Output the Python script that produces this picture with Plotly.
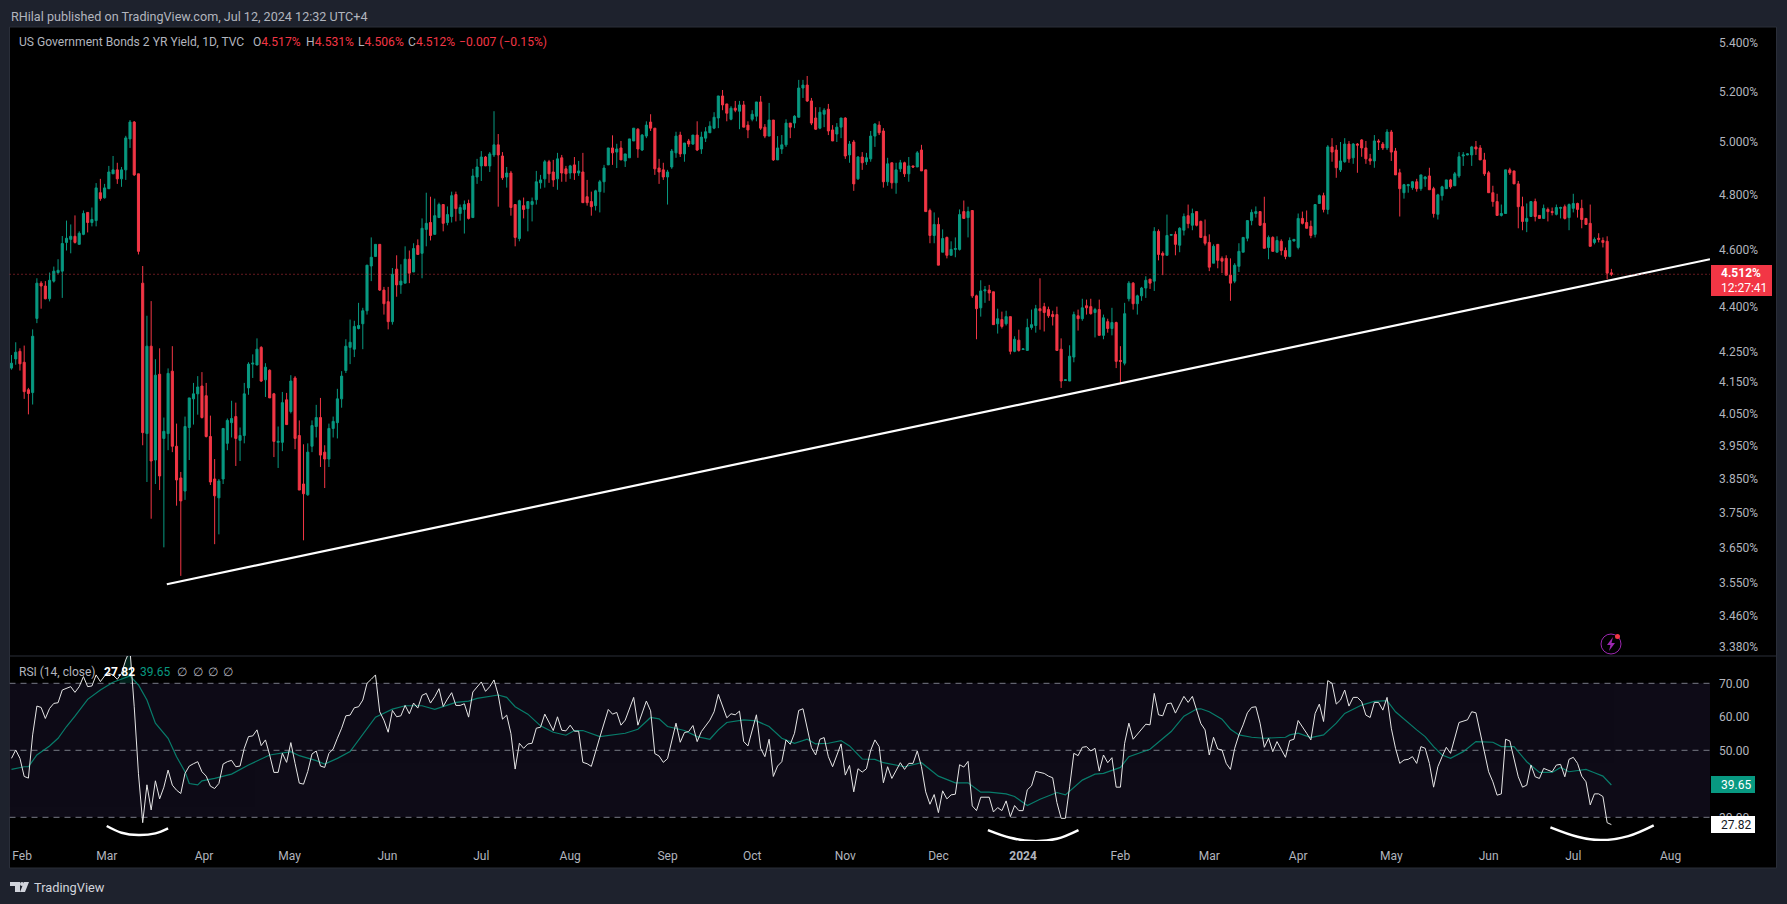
"""US 2Y yield daily candles with an RSI pane, TradingView dark look."""
import numpy as np
import plotly.graph_objects as go

W, H = 1787, 904

# candles, one entry per trading bar
opens = [
    4.195,4.225,4.250,4.214,4.125,4.116,4.360,4.481,4.471,4.427,
    4.488,4.518,4.523,4.625,4.636,4.647,4.618,4.654,4.734,4.697,
    4.704,4.807,4.788,4.822,4.878,4.893,4.859,4.893,5.012,5.078,
    4.878,4.481,3.987,4.267,3.906,4.175,3.972,3.987,4.185,3.948,
    3.852,3.813,4.006,4.096,4.112,4.137,4.106,3.978,3.849,3.793,
    3.849,3.957,4.021,4.040,3.966,3.981,4.131,4.208,4.205,4.263,
    4.157,4.188,4.112,3.960,3.960,4.093,4.056,4.163,3.981,3.834,
    3.802,3.948,4.009,4.037,3.930,3.909,4.003,4.021,4.096,
    4.187,4.263,4.257,4.326,4.342,4.386,4.541,4.575,4.618,4.457,
    4.417,4.349,4.530,4.475,4.481,4.565,4.520,4.614,4.586,4.672,
    4.697,4.654,4.715,4.763,4.697,4.719,4.800,4.730,4.745,4.767,
    4.715,4.866,4.908,4.942,4.908,4.950,4.989,4.946,4.866,4.881,
    4.763,4.639,4.759,4.748,4.763,4.781,4.844,4.859,4.924,4.885,
    4.859,4.939,4.897,4.881,4.912,4.881,4.885,4.792,4.774,4.759,
    4.811,4.848,4.912,4.977,4.961,4.977,4.927,4.939,5.004,5.050,
    4.969,5.023,5.078,5.054,4.900,4.893,4.866,4.904,4.958,5.027,
    4.954,5.004,4.992,5.027,4.973,5.015,5.036,5.054,5.094,5.182,
    5.150,5.089,5.133,5.121,5.146,5.066,5.089,5.101,5.158,5.058,
    5.023,5.086,4.931,4.973,4.989,5.074,5.074,5.097,5.214,5.226,
    5.162,5.094,5.054,5.109,5.129,5.047,5.031,5.058,5.094,4.950,
    5.000,4.859,4.942,4.924,4.935,5.023,5.066,5.043,4.848,4.920,
    4.844,4.897,4.920,4.878,4.908,4.904,4.969,4.893,4.741,4.650,
    4.690,4.590,4.643,4.579,4.600,4.600,4.737,4.715,4.741,4.437,
    4.396,4.454,4.457,4.451,4.342,4.356,4.342,4.366,4.250,4.287,
    4.256,4.253,4.329,4.336,4.393,4.400,4.390,4.373,4.373,4.257,
    4.155,4.153,4.231,4.369,4.359,4.403,4.400,4.380,4.390,4.303,
    4.349,4.326,4.346,4.220,4.211,4.427,4.481,4.410,4.437,4.464,
    4.495,4.488,4.665,4.586,4.579,4.651,4.654,4.615,4.669,4.722,
    4.687,4.737,4.701,4.647,4.625,4.551,4.618,4.568,4.568,4.509,
    4.488,4.540,4.590,4.640,4.704,4.730,4.737,4.694,4.607,4.643,
    4.590,4.629,4.596,4.575,4.630,4.607,4.712,4.697,4.683,4.654,
    4.767,4.796,4.745,4.981,4.969,4.893,4.924,4.992,4.939,4.992,
    5.008,4.977,4.935,4.927,5.004,4.992,4.977,5.039,4.965,4.882,
    4.807,4.833,4.826,4.848,4.822,4.859,4.870,4.822,4.727,4.796,
    4.822,4.855,4.833,4.870,4.946,4.950,4.950,4.981,4.977,4.931,
    4.882,4.807,4.774,4.723,4.730,4.893,4.889,4.840,4.755,4.701,
    4.719,4.774,4.723,4.712,4.745,4.737,4.727,4.749,4.755,4.715,
    4.749,4.767,4.749,4.712,4.694,4.625,4.640,4.632,4.629,4.517,
]
highs = [
    4.238,4.280,4.260,4.269,4.131,4.323,4.498,4.488,4.488,4.518,
    4.539,4.565,4.648,4.704,4.690,4.723,4.665,4.741,4.734,4.752,
    4.843,4.859,4.840,4.908,4.946,4.920,4.904,5.024,5.086,5.082,
    4.878,4.541,4.369,4.419,4.224,4.260,4.037,4.194,4.267,4.018,
    3.870,4.040,4.099,4.147,4.169,4.182,4.147,4.043,3.909,3.849,
    4.003,4.034,4.090,4.084,4.006,4.147,4.214,4.240,4.293,4.267,
    4.211,4.191,4.115,4.009,4.118,4.115,4.172,4.169,4.028,3.954,
    3.957,4.028,4.077,4.099,3.951,4.018,4.040,4.128,4.185,
    4.290,4.356,4.352,4.413,4.396,4.544,4.643,4.618,4.618,4.468,
    4.468,4.534,4.579,4.547,4.611,4.596,4.622,4.636,4.712,4.807,
    4.792,4.785,4.770,4.763,4.756,4.811,4.811,4.763,4.778,4.781,
    4.897,4.935,4.965,4.946,4.961,5.121,5.031,4.961,4.904,4.889,
    4.763,4.781,4.789,4.774,4.789,4.889,4.874,4.931,4.931,4.931,
    4.958,4.950,4.908,4.912,4.942,4.927,4.958,4.855,4.811,4.818,
    4.855,4.912,4.977,5.026,4.993,5.004,4.954,5.012,5.054,5.054,
    5.031,5.081,5.109,5.054,4.935,4.920,4.893,4.973,5.040,5.040,
    4.996,5.012,5.027,5.081,5.040,5.058,5.081,5.117,5.182,5.206,
    5.150,5.141,5.162,5.162,5.162,5.081,5.125,5.158,5.182,5.070,
    5.154,5.086,5.023,5.027,5.089,5.074,5.105,5.247,5.247,5.263,
    5.174,5.137,5.137,5.133,5.150,5.066,5.074,5.094,5.097,5.004,
    5.008,4.946,4.961,4.958,5.043,5.074,5.081,5.054,4.939,4.920,
    4.920,4.931,4.924,4.942,4.908,4.965,4.989,4.893,4.748,4.734,
    4.715,4.672,4.646,4.629,4.643,4.745,4.778,4.755,4.741,4.441,
    4.491,4.471,4.475,4.451,4.393,4.383,4.386,4.366,4.300,4.322,
    4.259,4.359,4.390,4.406,4.498,4.413,4.400,4.386,4.400,4.293,
    4.158,4.270,4.383,4.390,4.427,4.424,4.427,4.396,4.424,4.373,
    4.359,4.396,4.349,4.267,4.413,4.488,4.485,4.441,4.468,4.505,
    4.495,4.680,4.672,4.593,4.726,4.654,4.665,4.680,4.730,4.763,
    4.748,4.737,4.704,4.708,4.654,4.618,4.618,4.575,4.579,4.568,
    4.551,4.622,4.643,4.704,4.745,4.756,4.737,4.792,4.650,4.647,
    4.647,4.636,4.607,4.643,4.637,4.730,4.737,4.741,4.704,4.763,
    4.800,4.807,4.988,5.015,4.988,5.000,5.015,5.004,4.996,4.996,
    5.011,5.004,4.954,5.027,5.011,5.000,5.050,5.047,4.977,4.897,
    4.840,4.840,4.851,4.859,4.874,4.870,4.901,4.829,4.803,4.833,
    4.855,4.859,4.885,4.961,4.961,4.955,4.985,5.004,4.988,4.958,
    4.889,4.833,4.803,4.763,4.893,4.901,4.889,4.851,4.792,4.767,
    4.774,4.785,4.723,4.763,4.752,4.752,4.763,4.755,4.763,4.767,
    4.803,4.770,4.781,4.712,4.763,4.643,4.658,4.643,4.647,4.531,
]
lows = [
    4.190,4.206,4.187,4.096,4.047,4.078,4.344,4.393,4.425,4.418,
    4.483,4.512,4.430,4.596,4.586,4.621,4.618,4.651,4.661,4.683,
    4.683,4.777,4.785,4.822,4.878,4.840,4.829,4.855,4.977,4.870,
    4.582,3.951,3.840,3.732,3.834,3.816,3.650,3.936,3.930,3.770,
    3.570,3.787,3.906,4.015,4.046,4.034,3.975,3.831,3.659,3.687,
    3.834,3.936,3.975,3.888,3.903,3.957,4.109,4.163,4.205,4.150,
    4.102,4.099,3.915,3.882,3.933,4.015,4.050,3.939,3.816,3.670,
    3.799,3.930,3.975,3.885,3.822,3.885,3.975,3.972,4.068,
    4.179,4.208,4.231,4.323,4.257,4.373,4.488,4.575,4.454,4.373,
    4.323,4.339,4.434,4.444,4.481,4.481,4.520,4.582,4.498,4.611,
    4.632,4.654,4.715,4.665,4.687,4.697,4.701,4.704,4.657,4.708,
    4.715,4.840,4.851,4.908,4.885,4.942,4.755,4.855,4.826,4.722,
    4.611,4.629,4.712,4.665,4.701,4.763,4.822,4.826,4.844,4.829,
    4.818,4.848,4.848,4.859,4.855,4.870,4.770,4.759,4.722,4.741,
    4.734,4.807,4.912,4.912,4.900,4.931,4.904,4.939,5.004,4.939,
    4.965,5.015,5.043,4.874,4.840,4.855,4.763,4.897,4.939,4.942,
    4.924,4.981,4.989,4.965,4.954,5.000,5.036,5.050,5.054,5.125,
    5.081,5.085,5.117,5.050,5.058,5.015,5.081,5.081,5.047,5.015,
    5.023,4.927,4.931,4.954,4.981,5.015,5.054,5.097,5.174,5.158,
    5.066,5.047,5.050,5.058,5.027,5.004,5.000,5.015,4.935,4.920,
    4.814,4.855,4.893,4.912,4.924,4.981,5.027,4.826,4.833,4.822,
    4.803,4.885,4.866,4.848,4.900,4.904,4.889,4.737,4.622,4.622,
    4.544,4.590,4.568,4.579,4.572,4.596,4.712,4.643,4.430,4.290,
    4.366,4.413,4.420,4.339,4.309,4.326,4.336,4.240,4.247,4.249,
    4.255,4.253,4.322,4.312,4.322,4.316,4.362,4.336,4.253,4.131,
    4.154,4.153,4.214,4.319,4.352,4.373,4.373,4.296,4.303,4.290,
    4.312,4.303,4.195,4.145,4.204,4.418,4.390,4.373,4.420,4.430,
    4.461,4.454,4.561,4.509,4.579,4.650,4.579,4.590,4.650,4.676,
    4.669,4.683,4.643,4.614,4.523,4.551,4.533,4.516,4.509,4.420,
    4.481,4.520,4.590,4.629,4.687,4.715,4.687,4.604,4.565,4.593,
    4.590,4.579,4.565,4.572,4.629,4.600,4.690,4.676,4.640,4.643,
    4.767,4.734,4.727,4.924,4.863,4.885,4.920,4.920,4.916,4.882,
    4.943,4.916,4.912,4.901,4.969,4.969,4.969,4.927,4.874,4.719,
    4.785,4.807,4.818,4.811,4.814,4.829,4.818,4.715,4.708,4.778,
    4.822,4.822,4.833,4.863,4.908,4.949,4.908,4.950,4.931,4.870,
    4.807,4.755,4.723,4.719,4.730,4.874,4.840,4.676,4.669,4.662,
    4.719,4.701,4.712,4.712,4.701,4.723,4.723,4.712,4.708,4.669,
    4.734,4.715,4.676,4.690,4.611,4.618,4.625,4.607,4.495,4.506,
]
closes = [
    4.211,4.247,4.209,4.119,4.113,4.300,4.481,4.471,4.427,4.491,
    4.523,4.526,4.621,4.640,4.647,4.625,4.658,4.730,4.697,4.708,
    4.825,4.785,4.825,4.885,4.893,4.859,4.893,5.016,5.078,4.874,
    4.593,3.990,4.267,3.903,4.172,3.858,3.994,4.178,3.948,3.846,
    3.784,4.009,4.099,4.112,4.134,4.037,3.978,3.840,3.799,3.843,
    4.003,4.028,4.034,3.972,3.981,4.112,4.208,4.211,4.257,4.153,
    4.198,4.099,3.963,3.963,4.084,4.015,4.153,3.972,3.816,3.805,
    3.930,4.012,4.037,3.921,3.909,4.003,4.025,4.096,4.169,
    4.267,4.280,4.333,4.336,4.386,4.544,4.572,4.618,4.457,4.410,
    4.349,4.512,4.475,4.488,4.565,4.516,4.603,4.582,4.676,4.694,
    4.650,4.722,4.763,4.694,4.726,4.796,4.748,4.752,4.763,4.712,
    4.870,4.904,4.942,4.908,4.954,4.989,4.950,4.863,4.881,4.752,
    4.643,4.777,4.745,4.774,4.774,4.848,4.855,4.924,4.878,4.855,
    4.935,4.881,4.878,4.908,4.881,4.889,4.770,4.770,4.755,4.814,
    4.848,4.900,4.977,4.958,4.973,4.931,4.954,5.012,5.054,4.973,
    5.027,5.066,5.054,4.897,4.885,4.866,4.885,4.965,5.023,4.954,
    4.996,4.992,5.027,4.969,5.019,5.040,5.062,5.097,5.182,5.146,
    5.113,5.133,5.125,5.146,5.058,5.047,5.109,5.158,5.054,5.023,
    5.086,4.931,4.977,4.989,5.074,5.058,5.101,5.214,5.226,5.162,
    5.074,5.050,5.117,5.125,5.043,5.004,5.058,5.094,4.946,4.992,
    4.840,4.942,4.920,4.939,5.023,5.070,5.036,4.848,4.916,4.844,
    4.893,4.920,4.878,4.908,4.904,4.958,4.889,4.737,4.650,4.690,
    4.544,4.639,4.579,4.600,4.603,4.726,4.712,4.737,4.437,4.393,
    4.454,4.458,4.447,4.339,4.359,4.333,4.366,4.250,4.290,4.253,
    4.258,4.329,4.339,4.393,4.386,4.380,4.369,4.366,4.253,4.153,
    4.157,4.234,4.373,4.359,4.396,4.396,4.376,4.390,4.303,4.362,
    4.326,4.346,4.217,4.217,4.376,4.481,4.410,4.437,4.464,4.491,
    4.481,4.665,4.582,4.579,4.650,4.653,4.618,4.676,4.719,4.693,
    4.730,4.687,4.643,4.622,4.537,4.611,4.561,4.558,4.509,4.481,
    4.544,4.593,4.643,4.704,4.734,4.737,4.687,4.604,4.643,4.593,
    4.632,4.596,4.575,4.632,4.636,4.712,4.694,4.676,4.650,4.763,
    4.796,4.745,4.981,4.961,4.901,4.927,4.992,4.935,4.992,4.988,
    4.977,4.935,4.927,5.004,5.000,4.977,5.039,4.961,4.874,4.822,
    4.837,4.837,4.848,4.822,4.874,4.866,4.818,4.730,4.799,4.829,
    4.855,4.829,4.878,4.943,4.950,4.954,4.981,4.973,4.931,4.878,
    4.807,4.774,4.723,4.730,4.893,4.882,4.840,4.755,4.701,4.712,
    4.774,4.719,4.712,4.749,4.737,4.734,4.752,4.752,4.712,4.763,
    4.767,4.745,4.708,4.690,4.611,4.636,4.636,4.625,4.516,4.512,
]
bars = list(range(len(closes)))

# RSI line: bar number and value at each vertex visible in the pane
rsi_bars = [
    0,1,2,3,4,5,6,7,8,9,10,11,12,14,15,16,17,18,19,20,21,22,23,24,25,26,27,28,29,30,
    31,32,33,34,35,36,37,38,39,40,41,42,43,44,45,46,47,48,49,50,51,52,53,54,55,56,57,58,59,60,
    61,62,63,64,65,66,67,68,69,70,71,72,73,74,75,76,77,78,79,80,81,82,83,84,85,86,87,88,89,90,
    91,92,93,94,95,96,97,98,99,100,101,102,103,104,105,106,107,108,109,110,111,112,113,114,115,116,117,118,119,120,
    121,122,123,124,125,126,127,128,129,130,131,132,133,134,135,136,137,138,139,
    141,142,143,144,145,147,148,150,151,152,153,154,155,156,157,158,159,160,161,162,163,165,166,167,168,169,170,171,172,173,
    174,176,177,178,179,180,181,182,183,184,185,186,187,188,189,190,191,192,193,194,196,197,198,199,200,201,202,203,204,205,
    206,207,208,210,211,212,213,214,215,216,217,218,219,220,221,222,223,224,225,226,227,228,229,231,232,233,234,235,236,237,
    238,239,240,241,242,244,245,246,247,248,249,250,251,252,253,254,255,256,257,258,259,260,261,262,263,264,265,268,269,270,
    271,272,273,274,275,277,278,279,281,282,283,284,285,286,287,288,289,290,291,292,293,294,295,296,297,298,299,301,302,303,
    304,306,307,308,309,310,311,312,313,314,315,316,317,318,319,320,321,322,323,324,325,326,327,328,329,330,331,332,333,334,
    335,336,337,338,339,340,341,342,344,345,346,347,348,349,350,351,352,353,354,355,356,357,358,359,360,361,362,363,364,365,
    366,367,368,369,370,371,372,373,374,375,376,377,378,
]
rsi_values = [
    47.6,50.1,47.6,42.2,41.7,54.6,63.2,62.8,59.5,62.5,64.0,64.2,68.0,69.0,67.3,69.0,72.0,69.0,69.2,72.5,70.5,72.2,73.0,72.5,71.2,73.0,77.0,80.0,63.0,43.0,
    28.4,39.7,32.2,40.9,35.5,39.0,44.1,39.6,38.1,37.1,43.1,45.3,46.0,46.6,43.6,42.3,39.3,38.6,40.1,45.9,46.6,47.0,45.1,45.3,50.6,54.1,54.3,56.1,51.4,53.1,
    48.6,43.4,43.4,49.1,46.4,52.3,46.1,40.2,39.9,43.7,48.9,49.8,45.3,44.9,49.1,50.4,53.6,56.6,60.3,60.5,62.7,63.0,65.0,70.0,71.2,72.5,61.5,59.0,55.4,61.9,
    60.0,60.3,63.4,60.9,64.1,62.6,66.4,67.0,64.1,66.0,68.4,63.1,65.3,67.2,63.4,63.4,63.9,59.9,67.4,69.0,70.4,67.6,69.0,71.0,66.5,59.3,60.5,55.0,44.4,52.1,
    50.6,51.9,52.1,56.6,56.9,60.8,58.5,55.9,60.0,56.0,55.8,57.5,55.7,55.7,46.4,46.0,45.2,49.9,53.9,
    62.2,60.8,61.3,57.5,59.0,65.8,57.5,64.7,61.8,49.0,48.3,46.4,47.5,53.1,58.1,52.4,55.3,55.6,57.4,52.6,55.6,59.0,61.5,66.7,63.4,59.7,60.9,60.6,61.7,52.6,
    51.3,60.6,50.6,48.1,53.3,42.2,45.3,46.6,53.1,51.8,55.1,61.9,62.4,56.3,50.8,48.6,53.3,53.8,48.1,45.1,51.9,42.6,45.5,37.6,44.5,43.5,44.5,50.0,53.1,51.1,
    40.3,45.1,41.6,46.3,44.3,46.1,46.1,49.8,45.1,37.6,33.9,36.8,31.4,37.9,35.5,36.7,36.9,45.7,45.0,46.7,33.4,32.0,36.0,36.0,31.6,32.9,32.0,34.9,30.2,33.5,
    32.0,32.0,38.2,39.4,43.7,43.1,42.3,41.8,34.4,29.7,29.7,39.1,49.1,48.4,50.9,51.1,49.8,50.6,43.8,48.6,46.3,47.8,39.0,39.0,52.1,58.1,53.3,57.8,57.6,67.0,
    60.6,60.3,63.9,64.1,61.1,66.1,64.3,66.1,58.0,56.1,48.6,53.9,50.4,50.1,46.1,44.3,50.6,54.6,57.6,61.2,62.8,63.0,58.1,50.9,53.6,49.6,52.6,47.9,52.9,53.3,
    58.9,55.1,53.1,61.0,63.8,58.6,70.8,70.0,63.8,65.0,68.0,63.2,65.8,65.8,64.5,60.5,59.8,64.3,64.3,62.0,65.8,56.6,50.6,46.1,47.1,47.3,48.1,46.1,51.1,50.6,
    46.1,39.0,45.1,48.1,50.9,49.1,53.6,58.3,59.1,61.5,61.2,55.1,48.6,43.6,40.6,36.6,37.0,53.3,52.8,47.1,42.1,39.0,39.6,45.6,42.1,41.6,44.6,44.1,43.6,45.6,
    45.8,42.1,47.3,47.9,46.1,42.3,40.6,33.7,37.0,37.0,36.2,28.4,27.82,
]

# RSI moving average vertices
ma_bars = [
    0,3,4,6,9,11,13,15,18,21,24,28,30,32,34,37,39,41,42,44,45,48,52,56,61,66,68,72,74,77,
    80,83,86,90,93,97,100,105,108,110,113,115,117,119,122,125,128,131,133,135,139,
    142,145,148,151,153,155,159,162,165,167,169,173,176,179,182,185,188,190,193,196,198,201,204,206,211,
    215,219,223,226,229,231,235,237,240,243,247,249,253,256,258,262,264,269,274,277,280,
    281,283,286,288,290,293,296,301,302,304,307,310,313,315,319,322,325,327,332,334,336,338,340,343,346,
    350,352,355,358,361,364,366,368,372,374,376,378,
]
ma_values = [
    44.3,45.1,45.1,48.6,51.3,53.6,57.1,60.2,65.2,68.0,70.3,72.2,69.5,65.0,58.1,53.6,48.1,43.6,40.1,39.7,40.9,41.6,42.9,45.6,48.6,49.6,48.4,46.9,45.9,47.6,
    49.6,54.6,59.9,62.3,63.3,63.3,62.2,64.3,64.7,65.5,66.0,66.5,65.8,63.0,60.8,57.3,55.4,54.5,55.9,55.9,54.1,
    54.6,55.1,56.3,59.8,59.4,57.1,55.9,54.1,53.3,56.1,58.3,59.1,58.8,57.1,53.6,52.1,53.3,51.9,52.1,52.9,51.3,47.4,47.3,46.3,45.1,
    46.3,42.3,40.3,40.3,37.5,37.5,37.0,36.2,33.5,35.4,37.4,36.7,41.1,42.9,43.1,44.9,48.1,50.3,55.6,60.2,62.3,
    62.4,61.5,59.3,56.3,54.6,53.9,53.6,53.9,54.6,55.1,53.8,54.6,58.1,61.0,63.5,64.6,64.8,61.5,56.1,54.1,51.1,48.6,47.6,49.6,52.6,
    52.4,51.1,51.1,46.6,43.4,43.4,44.9,43.6,44.3,43.3,42.3,39.65,
]

# overbought sliver above the 70 line
ob_bars = [25.5, 27, 28, 28.6]
ob_values = [70, 77, 80, 70]

# trendline and the three hand drawn arcs
trend_bars = [36.7, 401.3]
trend_values = [3.547, 4.565]
arc_bars = [[22.5, 26, 30, 34, 37], [230.7, 236, 241.3, 247, 252.1], [363.6, 370, 375.4, 382, 388.0]]
arc_values = [[27.4, 25.4, 24.7, 25.2, 26.7], [26.2, 23.9, 22.9, 23.6, 26.2], [27.0, 24.2, 23.2, 24.4, 27.6]]

price_ticks = [5.4, 5.2, 5.0, 4.8, 4.6, 4.4, 4.25, 4.15, 4.05, 3.95, 3.85, 3.75, 3.65, 3.55, 3.46, 3.38]
rsi_ticks = [30, 50, 60, 70]
month_bars = [2.5, 22.5, 45.5, 65.7, 88.8, 111, 132, 155, 175, 197, 219, 239, 262, 283, 304, 326, 349, 369, 392]
month_labels = ["Feb", "Mar", "Apr", "May", "Jun", "Jul", "Aug", "Sep", "Oct", "Nov", "Dec", "<b>2024</b>",
                "Feb", "Mar", "Apr", "May", "Jun", "Jul", "Aug"]

last_close = 4.512
price_range = [3.3547, 5.467]
rsi_range = [22.93, 78.15]
bar_range = [-0.47, 401.3]

RED = "#f23645"
GREEN = "#089981"
TEXT = "#b2b5be"
FONT = "Roboto, sans-serif"


def px(x):
    return x / W


def py(y):
    return 1 - y / H


def poly(points):
    return "M " + " L ".join(f"{px(x):.5f} {py(y):.5f}" for x, y in points) + " Z"


def label(text, x, y, size=12, color=TEXT, anchor="left"):
    return dict(text=text, x=px(x), y=py(y), xref="paper", yref="paper", xanchor=anchor, yanchor="middle",
                showarrow=False, font=dict(family=FONT, size=size, color=color))


def box(x0, y0, x1, y1, fill, line=None, layer="above", kind="rect"):
    return dict(type=kind, xref="paper", yref="paper", x0=px(x0), x1=px(x1), y0=py(y0), y1=py(y1),
                fillcolor=fill, line=dict(color=line or fill, width=1 if line else 0), layer=layer)


fig = go.Figure()

fig.add_trace(go.Candlestick(
    x=bars, open=opens, high=highs, low=lows, close=closes, xaxis="x", yaxis="y",
    increasing=dict(line=dict(color=GREEN, width=1), fillcolor=GREEN),
    decreasing=dict(line=dict(color=RED, width=1), fillcolor=RED),
    whiskerwidth=0, showlegend=False,
))
fig.add_trace(go.Scatter(x=trend_bars, y=trend_values, mode="lines", xaxis="x", yaxis="y",
                         line=dict(color="#ffffff", width=2.2), showlegend=False))

fig.add_trace(go.Scatter(x=ob_bars, y=ob_values, mode="none", fill="toself", fillcolor="rgba(8,153,129,0.22)",
                         xaxis="x2", yaxis="y2", showlegend=False))
fig.add_trace(go.Scatter(x=ma_bars, y=ma_values, mode="lines", xaxis="x2", yaxis="y2",
                         line=dict(color=GREEN, width=1.2), opacity=0.8, showlegend=False))
fig.add_trace(go.Scatter(x=rsi_bars, y=rsi_values, mode="lines", xaxis="x2", yaxis="y2",
                         line=dict(color="#e6e6e6", width=1), showlegend=False))
for xs, ys in zip(arc_bars, arc_values):
    fig.add_trace(go.Scatter(x=xs, y=ys, mode="lines", xaxis="x2", yaxis="y2",
                             line=dict(color="#ffffff", width=2.5, shape="spline"), showlegend=False))

shapes = [
    box(9.5, 27, 1776.5, 868, "#000000", line="#2a2e39", layer="below"),
    dict(type="rect", xref="x2", yref="y2", x0=bar_range[0], x1=bar_range[1], y0=30, y1=70,
         fillcolor="#0e0b17", line=dict(width=0), layer="below"),
    dict(type="line", xref="paper", yref="paper", x0=px(9.5), x1=px(1776.5), y0=py(656), y1=py(656),
         line=dict(color="#2a2e39", width=1), layer="below"),
    dict(type="line", xref="x", yref="y", x0=bar_range[0], x1=bar_range[1], y0=last_close, y1=last_close,
         line=dict(color="#c8323e", width=1, dash="1px,3px"), layer="above"),
]
for level in [70, 50, 30]:
    shapes.append(dict(type="line", xref="x2", yref="y2", x0=bar_range[0], x1=bar_range[1], y0=level, y1=level,
                       line=dict(color="#787b86", width=1, dash="6px,5px"), layer="below"))

# price and RSI value tags on the right scale
shapes.append(box(1711, 265, 1772, 296, RED))
shapes.append(box(1711, 776, 1755, 793, GREEN))
shapes.append(box(1711, 816, 1755, 833, "#ffffff"))

# bolt badge
shapes.append(box(1601, 634, 1621, 654, "rgba(0,0,0,0)", line="#9c27b0", kind="circle"))
shapes.append(dict(type="path", xref="paper", yref="paper", layer="above", fillcolor="#9c27b0", line=dict(width=0),
                   path=poly([(1613, 637), (1607, 645), (1610.5, 645), (1609, 651), (1615, 643), (1611.5, 643)])))
shapes.append(box(1615, 634, 1620, 639, "#f23645", kind="circle"))

# TradingView mark
logo = [[(10, 882), (20, 882), (20, 892), (15, 892), (15, 886), (10, 886)],
        [(24, 882), (29, 882), (25, 892), (20, 892)]]
for part in logo:
    shapes.append(dict(type="path", xref="paper", yref="paper", layer="above", fillcolor="#d1d4dc",
                       line=dict(width=0), path=poly(part)))
shapes.append(box(20, 882, 24, 886, "#d1d4dc", kind="circle"))

annotations = [
    label("RHilal published on TradingView.com, Jul 12, 2024 12:32 UTC+4", 9, 16, size=12.6),
    label("US Government Bonds 2 YR Yield, 1D, TVC", 17, 42, size=12.1),
    label(f'O<span style="color:{RED}">4.517%</span>', 251, 42, size=12.1),
    label(f'H<span style="color:{RED}">4.531%</span>', 303.5, 42, size=12.1),
    label(f'L<span style="color:{RED}">4.506%</span>', 356, 42, size=12.1),
    label(f'C<span style="color:{RED}">4.512%</span>', 406, 42, size=12.1),
    label("−0.007 (−0.15%)", 457, 42, size=12.1, color=RED),
    label("RSI (14, close)", 17, 672, size=12),
    label("<b>27.82</b>", 102, 672, size=12, color="#ffffff"),
    label("39.65", 138, 672, size=12, color=GREEN),
    label("∅", 175, 672, size=12),
    label("∅", 191, 672, size=12),
    label("∅", 206, 672, size=12),
    label("∅", 221, 672, size=12),
    label("<b>4.512%</b>", 1719, 273, size=12, color="#ffffff"),
    label("12:27:41", 1719, 288, size=12, color="#ffffff"),
    label("39.65", 1719, 785, size=12, color="#ffffff"),
    label("27.82", 1719, 825, size=12, color="#131722"),
    label("TradingView", 32, 887, size=12.8, color="#d1d4dc"),
]

tick_font = dict(family=FONT, size=12, color=TEXT)
fig.update_layout(
    width=W, height=H, margin=dict(l=0, r=0, t=0, b=0),
    paper_bgcolor="#1e222d", plot_bgcolor="rgba(0,0,0,0)", showlegend=False,
    shapes=shapes, annotations=annotations, boxgap=0.3,
    xaxis=dict(domain=[px(9.5), px(1710)], range=bar_range, anchor="y", showticklabels=False, ticks="",
               showgrid=False, zeroline=False, rangeslider=dict(visible=False)),
    yaxis=dict(domain=[py(656), py(27)], type="log", range=list(np.log10(price_range)), side="right", anchor="x",
               tickmode="array", tickvals=price_ticks, ticktext=[f"{v:.3f}%" for v in price_ticks],
               tickfont=tick_font, ticks="", ticklabelstandoff=8, showgrid=False, zeroline=False),
    xaxis2=dict(domain=[px(9.5), px(1710)], range=bar_range, anchor="y2", tickmode="array", tickvals=month_bars,
                ticktext=month_labels, tickfont=tick_font, ticks="", showgrid=False, zeroline=False,
                ticklabelstandoff=6),
    yaxis2=dict(domain=[py(841), py(656)], range=rsi_range, side="right", anchor="x2", tickmode="array",
                tickvals=rsi_ticks, ticktext=[f"{v:.2f}" for v in rsi_ticks], tickfont=tick_font, ticks="",
                ticklabelstandoff=8, showgrid=False, zeroline=False),
)

fig.write_html("out.html", config={"displayModeBar": False},
               post_script="document.body.style.margin='0';document.body.style.overflow='hidden';")
